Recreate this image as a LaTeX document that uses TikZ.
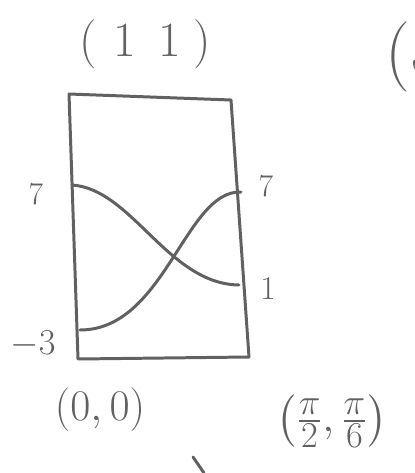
\documentclass[tikz,border=0pt]{standalone}
\usepackage{amsmath}
\begin{document}
\begin{tikzpicture}[x=0.02cm,y=-0.02cm,
  pen/.style={draw=black!62,line width=1.7pt,line cap=round,line join=round},
  every node/.style={text=black!62,inner sep=0pt}]
  \useasboundingbox (0,0) rectangle (415,473);
  % the panel
  \coordinate (tl) at (69,94); \coordinate (tr) at (231,100);
  \coordinate (br) at (249,357); \coordinate (bl) at (78,359);
  \draw[pen] (tl) -- (tr) -- (br) -- (bl) -- cycle;
  % the two curves
  \coordinate (dstart) at (72,185); \coordinate (dend) at (239,285);
  \coordinate (ustart) at (80,330); \coordinate (uend) at (241,192);
  \draw[pen] (dstart) .. controls (132,189) and (168,284) .. (dend);
  \draw[pen] (ustart) .. controls (165,330) and (185,190) .. (uend);
  % labels
  \node[font=\fontsize{28}{30}\selectfont] (title) at (145,44) {(\hspace{0.35em}1\hspace{0.45em}1\hspace{0.25em})};
  \node[font=\fontsize{40}{44}\selectfont,anchor=west] (other) at (385,57) {(5};
  \node[font=\fontsize{18}{20}\selectfont] (lseven) at (36,194) {7};
  \node[font=\fontsize{20}{22}\selectfont] (lminus) at (33,344) {$-3$};
  \node[font=\fontsize{18}{20}\selectfont] (rseven) at (266,186) {7};
  \node[font=\fontsize{19}{20}\selectfont] (rone) at (268,288) {1};
  \node[font=\fontsize{26}{28}\selectfont] (origin) at (100,410) {$(0,0)$};
  \node[font=\fontsize{31}{34}\selectfont] (corner) at (332,421) {$\left(\frac{\pi}{2},\frac{\pi}{6}\right)$};
  \draw[pen] (193,457) -- (204,473);
\end{tikzpicture}
\end{document}
